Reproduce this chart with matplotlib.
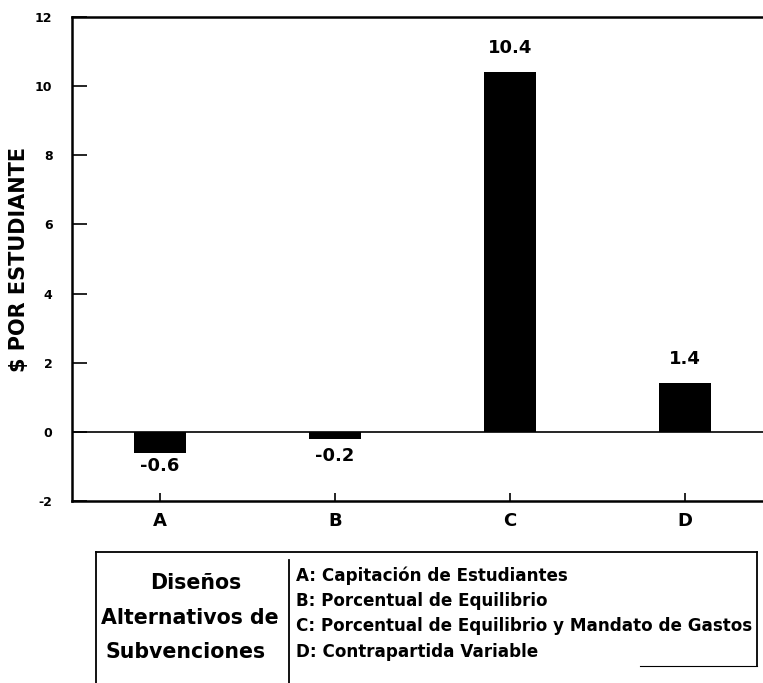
import matplotlib
matplotlib.use("Agg")
import matplotlib.pyplot as plt
from matplotlib.lines import Line2D

# Subsidy designs and the resulting change per student
designs = ["A", "B", "C", "D"]
values = [-0.6, -0.2, 10.4, 1.4]
value_labels = ["-0.6", "-0.2", "10.4", "1.4"]
yticks = [-2, 0, 2, 4, 6, 8, 10, 12]

legend_title = ["Diseños", "Alternativos de", "Subvenciones"]
legend_items = ["A: Capitación de Estudiantes",
                "B: Porcentual de Equilibrio",
                "C: Porcentual de Equilibrio y Mandato de Gastos",
                "D: Contrapartida Variable"]

plt.rcParams['font.family'] = ['DejaVu Sans']

W, H = 763, 683
fig = plt.figure(figsize=(W / 100, H / 100), dpi=100)

# main bar axes, in pixel-derived fractions
left, right, top, bottom = 72, 763, 17, 501
ax = fig.add_axes([left / W, 1 - bottom / H, (right - left) / W, (bottom - top) / H])

xpos = list(range(len(designs)))
ax.bar(xpos, values, width=0.3, color="black", zorder=3)
ax.axhline(0, color="black", lw=1.2, zorder=2)

# value labels: above positive bars, below negative ones
label_offsets = [-3, -6, 11, 11]
for x, v, lab, off in zip(xpos, values, value_labels, label_offsets):
    ax.annotate(lab, (x, v), xytext=(0, off), textcoords="offset points",
                ha="center", va="bottom" if v >= 0 else "top",
                fontsize=13, fontweight="bold")

ax.set_xlim(-0.503, 3.446)
ax.set_ylim(-2, 12)
ax.set_yticks(yticks)
ax.set_yticklabels([str(t) for t in yticks], fontsize=9, fontweight="bold")
ax.set_xticks(xpos)
ax.set_xticklabels(designs, fontsize=13, fontweight="bold")
ax.tick_params(axis="y", direction="in", length=11, width=1.2, pad=14)
ax.tick_params(axis="x", direction="in", length=6, width=1.2, pad=8)
ax.set_ylabel("\\$ POR ESTUDIANTE", fontsize=15, fontweight="bold", labelpad=4)

for side in ["left", "top", "bottom"]:
    ax.spines[side].set_linewidth(1.8)
ax.spines["right"].set_visible(False)

# legend box drawn in pixel coordinates
lg = fig.add_axes([0, 0, 1, 1], facecolor="none")
lg.set_xlim(0, W)
lg.set_ylim(H, 0)
lg.axis("off")

box_l, box_r, box_t, box_b = 96, 757, 552, 666
div_x = 289
lg.add_line(Line2D([box_l, box_r], [box_t, box_t], color="black", lw=1.3))
lg.add_line(Line2D([box_l, box_l], [box_t, H], color="black", lw=1.3))
lg.add_line(Line2D([box_r, box_r], [box_t, box_b], color="black", lw=1.3))
lg.add_line(Line2D([640, box_r], [box_b, box_b], color="black", lw=0.8))
lg.add_line(Line2D([div_x, div_x], [560, H], color="black", lw=1.3))

for txt, y, xc in zip(legend_title, [583, 618, 652], [196, 190, 186]):
    lg.text(xc, y, txt, ha="center", va="center", fontsize=14.8, fontweight="bold")

for txt, y in zip(legend_items, [576, 601, 626, 652]):
    lg.text(296, y, txt, ha="left", va="center", fontsize=12.1, fontweight="bold")

fig.savefig("out.png", dpi=100)
